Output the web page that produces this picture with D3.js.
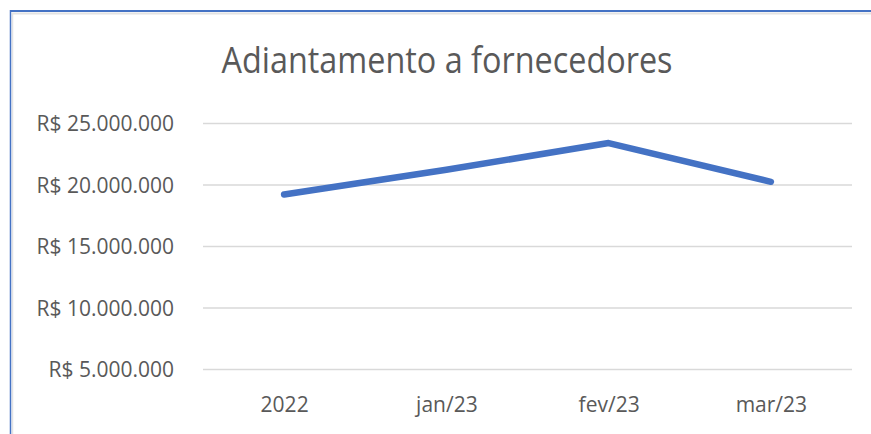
<!DOCTYPE html>
<html>
<head>
<meta charset="utf-8">
<script src="https://cdn.jsdelivr.net/npm/d3@7"></script>
<style>
  body { margin: 0; background: #fff; }
  svg { display: block; font-family: "Open Sans", sans-serif; }
</style>
</head>
<body>
<div id="chart"></div>
<script>
const categories = ["2022", "jan/23", "fev/23", "mar/23"];
const values = [19190000, 21200000, 23370000, 20220000];
const yTicks = [5000000, 10000000, 15000000, 20000000, 25000000];
const title = "Adiantamento a fornecedores";

const width = 871;
const height = 434;
const margin = { top: 123, right: 19, bottom: 65, left: 203 };

const svg = d3.select("#chart").append("svg")
  .attr("width", width)
  .attr("height", height);

// frame (selected chart border, cropped)
svg.append("line").attr("x1", 12).attr("x2", width).attr("y1", 13.5).attr("y2", 13.5)
  .attr("stroke", "#e3e3e3").attr("stroke-width", 2);
svg.append("line").attr("x1", 12.5).attr("x2", 12.5).attr("y1", 13).attr("y2", height)
  .attr("stroke", "#e3e3e3").attr("stroke-width", 1.5);
svg.append("line").attr("x1", 10).attr("x2", width).attr("y1", 11).attr("y2", 11)
  .attr("stroke", "#4472c4").attr("stroke-width", 2);
svg.append("line").attr("x1", 10.5).attr("x2", 10.5).attr("y1", 10).attr("y2", height)
  .attr("stroke", "#4472c4").attr("stroke-width", 1.5);

const x = d3.scalePoint()
  .domain(categories)
  .range([margin.left, width - margin.right])
  .padding(0.5);

const y = d3.scaleLinear()
  .domain([5000000, 25000000])
  .range([height - margin.bottom, margin.top]);

const ptBR = d3.formatLocale({
  decimal: ",", thousands: ".", grouping: [3], currency: ["R$ ", ""]
});
const fmt = ptBR.format("$,.0f");

// gridlines
svg.append("g")
  .attr("transform", `translate(${margin.left},0)`)
  .call(d3.axisLeft(y).tickValues(yTicks).tickSize(-(width - margin.left - margin.right)).tickFormat(""))
  .call(g => g.select(".domain").remove())
  .call(g => g.selectAll("line").attr("stroke", "#d9d9d9").attr("stroke-width", 1.5));

// y labels
svg.append("g")
  .attr("transform", `translate(${margin.left},0)`)
  .call(d3.axisLeft(y).tickValues(yTicks).tickSize(0).tickPadding(29).tickFormat(fmt))
  .call(g => g.select(".domain").remove())
  .call(g => g.selectAll("text")
    .attr("fill", "#595959")
    .attr("font-size", 21)
    .attr("font-family", "Open Sans, sans-serif")
    .attr("dy", "0.36em"));

// x labels
svg.append("g")
  .attr("transform", `translate(0,${height - margin.bottom})`)
  .call(d3.axisBottom(x).tickSize(0))
  .call(g => g.select(".domain").remove())
  .call(g => g.selectAll("text")
    .attr("fill", "#595959")
    .attr("font-size", 21)
    .attr("font-family", "Open Sans, sans-serif")
    .attr("y", 43)
    .attr("dy", 0));

// line
const line = d3.line()
  .x((d, i) => x(categories[i]))
  .y(d => y(d));

svg.append("path")
  .datum(values)
  .attr("d", line)
  .attr("fill", "none")
  .attr("stroke", "#4472c4")
  .attr("stroke-width", 6.5)
  .attr("stroke-linecap", "round")
  .attr("stroke-linejoin", "round");

// title
svg.append("text")
  .attr("x", 447)
  .attr("y", 73)
  .attr("text-anchor", "middle")
  .attr("fill", "#595959")
  .attr("font-size", 37)
  .attr("textLength", 451)
  .attr("lengthAdjust", "spacingAndGlyphs")
  .attr("font-family", "Open Sans, sans-serif")
  .text(title);
</script>
</body>
</html>
